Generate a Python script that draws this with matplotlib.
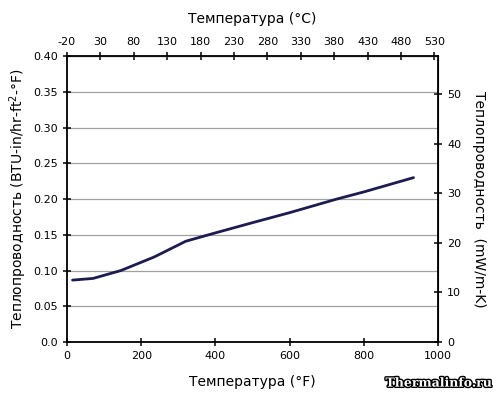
import matplotlib
matplotlib.use("Agg")
import matplotlib.pyplot as plt
import matplotlib.patheffects as pe

temp_f = [15, 70, 145, 235, 320, 395, 500, 600, 727, 800, 934]
k_btu = [0.0867, 0.089, 0.100, 0.119, 0.141, 0.152, 0.167, 0.181, 0.200, 0.210, 0.230]

x_ticks = [0, 200, 400, 600, 800, 1000]
y_ticks = [0.0, 0.05, 0.10, 0.15, 0.20, 0.25, 0.30, 0.35, 0.40]
y_labels = ["0.0", "0.05", "0.10", "0.15", "0.20", "0.25", "0.30", "0.35", "0.40"]
c_ticks = list(range(-20, 531, 50))
si_ticks = [0, 10, 20, 30, 40, 50]

BTU_TO_SI = 144.2

plt.rcParams["font.family"] = "DejaVu Sans"
plt.rcParams["axes.unicode_minus"] = False

fig = plt.figure(figsize=(5, 3.95), dpi=100)
ax = fig.add_axes([0.134, 0.134, 0.742, 0.724])

ax.plot(temp_f, k_btu, color="#1c1c50", lw=2.0, solid_capstyle="round")

ax.set_xlim(0, 1000)
ax.set_ylim(0, 0.40)
ax.set_xticks(x_ticks)
ax.set_yticks(y_ticks)
ax.set_yticklabels(y_labels)
ax.yaxis.grid(True, color="#a0a0a0", lw=0.9)
ax.set_axisbelow(True)
for s in ax.spines.values():
    s.set_linewidth(1.3)
ax.tick_params(direction="inout", length=6, width=1.1, labelsize=8)

ax.set_xlabel("Температура (°F)", fontsize=10, labelpad=10)
ax.set_ylabel("Теплопроводность (BTU-in/hr-ft$^2$-°F)", fontsize=10, labelpad=3)

# top scale as drawn in the source chart: -20 sits on the left spine
top = ax.secondary_xaxis("top", functions=(lambda f: f / 1.8 - 20, lambda c: (c + 20) * 1.8))
top.set_xticks(c_ticks)
top.tick_params(direction="inout", length=6, width=1.1, labelsize=8)
top.set_xlabel("Температура (°C)", fontsize=10, labelpad=10)

right = ax.secondary_yaxis("right", functions=(lambda b: b * BTU_TO_SI, lambda s: s / BTU_TO_SI))
right.set_yticks(si_ticks)
right.tick_params(direction="inout", length=6, width=1.1, labelsize=8)
right.set_ylabel("Теплопроводность  (mW/m-K)", fontsize=10, rotation=270, labelpad=18)

fig.text(0.984, 0.03, "Thermalinfo.ru", ha="right", va="center", fontsize=9,
         fontweight="bold", family="DejaVu Serif", color="white",
         path_effects=[pe.Stroke(linewidth=2, foreground="black"), pe.Normal()])

fig.savefig("out.png", dpi=100)
